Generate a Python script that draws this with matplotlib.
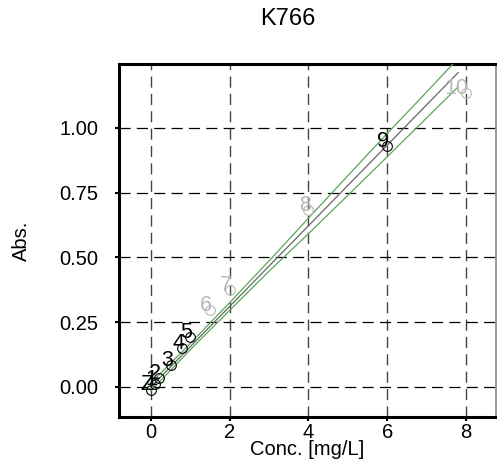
import numpy as np
import matplotlib
matplotlib.use('Agg')
import matplotlib.pyplot as plt

plt.rcParams['font.family'] = ['Liberation Sans', 'DejaVu Sans']
plt.rcParams['lines.scale_dashes'] = False

# calibration points
labels = ['Z', '1', '2', '3', '4', '5', '6', '7', '8', '9', '10']
conc = [0.0, 0.1, 0.2, 0.5, 0.8, 1.0, 1.5, 2.0, 4.0, 6.0, 8.0]
absb = [-0.010, 0.012, 0.034, 0.085, 0.149, 0.192, 0.297, 0.375, 0.683, 0.930, 1.134]
used = [True, True, True, True, True, True, False, False, False, True, False]

# regression line and confidence band
fit_x = [0.0, 7.8]
fit_y = [0.0, 1.214]
band_x = [0.0, 1.0, 2.0, 3.0, 4.0, 5.0, 6.0, 7.0, 7.8]
band_hi = [0.015, 0.168, 0.326, 0.487, 0.652, 0.816, 0.979, 1.139, 1.269]
band_lo = [-0.015, 0.144, 0.296, 0.447, 0.592, 0.740, 0.889, 1.039, 1.159]

fig = plt.figure(figsize=(4.97, 4.65), dpi=100)
ax = fig.add_axes([119/497, 1-417/465, 377/497, 353/465])

ax.set_xlim(-0.81, 8.76)
ax.set_ylim(-0.116, 1.247)

ax.plot(band_x, band_hi, color='#5aa55a', lw=0.9, zorder=3)
ax.plot(band_x, band_lo, color='#5aa55a', lw=0.9, zorder=3)
ax.plot(fit_x, fit_y, color='#666666', lw=0.9, zorder=3)

for lab, x, y, ok in zip(labels, conc, absb, used):
    col = 'black' if ok else '#b8b8b8'
    ax.plot(x, y, 'o', mfc='none', mec=col, ms=7, mew=0.8, zorder=4)
    ax.annotate(lab, (x, y), xytext=(1.5, -0.5), textcoords='offset points',
                ha='right', va='baseline', fontsize=15.5, color=col, zorder=5)

ax.set_xticks([0, 2, 4, 6, 8])
ax.set_yticks([0.0, 0.25, 0.5, 0.75, 1.0])
ax.set_yticklabels(['0.00', '0.25', '0.50', '0.75', '1.00'])
ax.tick_params(direction='out', length=3, width=1.5, labelsize=14.5)
ax.tick_params(axis='x', pad=1)
ax.tick_params(axis='y', pad=12)

ax.grid(True, axis='y', color='black', lw=0.9, linestyle=(0, (8, 4.5)))
ax.grid(True, axis='x', color='#444444', lw=1.0, linestyle=(0, (8, 4.5)))
ax.set_axisbelow(True)

for s in ['left', 'top', 'bottom']:
    ax.spines[s].set_linewidth(2.2)
ax.spines['right'].set_linewidth(1.2)
ax.spines['right'].set_color('#888888')

ax.set_xlabel('Conc. [mg/L]', fontsize=14.5, labelpad=-1)
ax.set_ylabel('Abs.', fontsize=14.5, labelpad=20)
fig.suptitle('K766', fontsize=17, x=288/497, y=1-8/465, va='top')

fig.savefig('out.png', dpi=100)
